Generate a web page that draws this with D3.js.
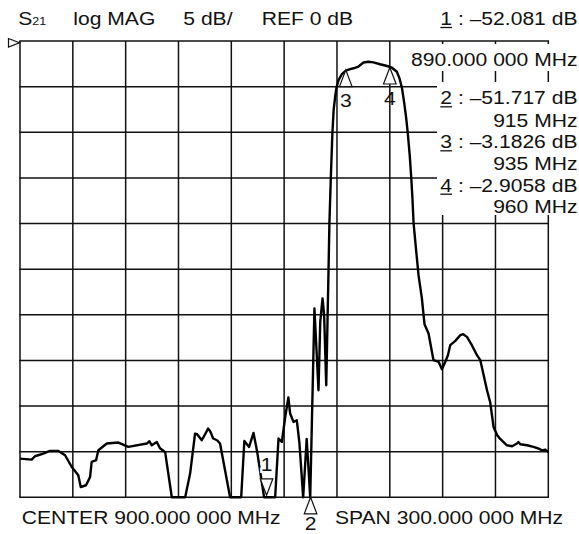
<!DOCTYPE html>
<html><head><meta charset="utf-8">
<script src="https://cdn.jsdelivr.net/npm/d3@7"></script>
<style>
html,body{margin:0;padding:0;background:#fff;}
svg{display:block;font-family:"Liberation Sans",Arial,Helvetica,sans-serif;}
</style></head>
<body><svg id="chart" width="579" height="534"></svg>
<script>
// ---- data ----
const freqMHz = [750,756.6,758.5,763.2,767.0,771.8,775.6,779.4,783.1,784.5,787.5,789.8,790.7,793.2,794.5,799.3,805.9,811.5,822.0,823.5,824.8,827.7,829.5,832.4,836.2,843.8,846.6,849.4,850.6,853.2,855.1,856.8,858.0,859.7,861.9,863.6,869.3,875.6,877.4,880.1,882.6,884.7,888.6,894.9,896.8,898.7,900.6,902.4,903.4,905.3,907.2,908.7,910.8,912.8,914.8,917.2,919.5,920.5,921.8,922.7,923.9,925.2,925.7,926.5,927.4,928.1,929.0,929.8,930.9,932.8,934.7,936.5,939.4,942.2,945.1,947.9,950.7,954.5,958.4,961.2,964.0,965.5,966.9,968.2,969.3,970.2,971.3,972.2,972.9,973.5,974.4,976.3,978.2,979.7,982.0,984.8,987.7,989.6,991.5,993.0,994.3,997.2,1000.0,1001.7,1003.8,1006.6,1009.5,1011.4,1015.2,1017.0,1018.9,1021.0,1022.7,1026.5,1029.5,1032.2,1033.0,1034.1,1037.9,1041.6,1044.5,1046.4,1048.3,1050];
const s21dB = [-45.76,-45.87,-45.50,-45.21,-44.92,-44.92,-45.39,-46.68,-47.59,-48.87,-48.68,-47.77,-46.13,-45.94,-44.85,-44.11,-44.00,-44.48,-44.11,-43.86,-44.30,-43.94,-44.63,-45.03,-52.0,-52.0,-47.40,-43.02,-43.09,-43.75,-43.09,-42.47,-42.76,-43.56,-43.75,-44.11,-52.0,-52.0,-43.83,-44.48,-42.95,-45.03,-52.08,-52.0,-43.56,-43.94,-41.20,-39.07,-40.82,-41.74,-41.56,-44.11,-51.9,-43.61,-51.72,-29.31,-38.27,-30.78,-28.21,-30.04,-37.72,-25.11,-19.96,-15.02,-10.09,-7.57,-6.03,-5.04,-4.28,-3.62,-3.29,-3.13,-2.99,-2.80,-2.36,-2.27,-2.34,-2.55,-2.74,-2.93,-3.37,-4.09,-5.15,-6.80,-8.44,-10.09,-12.50,-15.02,-17.43,-19.96,-21.82,-25.66,-28.18,-31.03,-32.05,-34.98,-35.16,-35.96,-35.16,-34.43,-33.33,-32.86,-32.24,-32.13,-32.42,-33.33,-34.43,-34.98,-38.27,-39.58,-42.29,-43.20,-43.61,-44.30,-44.41,-44.11,-43.94,-44.19,-44.30,-44.48,-44.66,-44.85,-44.77,-45.03];
const freqGrid = [750,780,810,840,870,900,930,960,990,1020,1050];
const dbGrid = [0,-5,-10,-15,-20,-25,-30,-35,-40,-45,-50];
const markerIds = ["1","2","3","4"];
const markerFreq = [890,915,935,960];
const markerDb = [-52.081,-51.717,-3.1826,-2.9058];
const markerDbText = ["–52.081 dB","–51.717 dB","–3.1826 dB","–2.9058 dB"];
const markerFreqText = ["890.000 000 MHz","915 MHz","935 MHz","960 MHz"];
const headerParam = "S";
const headerSub = "21";
const headerLabels = ["log MAG","5 dB/","REF 0 dB"];
const footerLabels = ["CENTER 900.000 000 MHz","SPAN 300.000 000 MHz"];

// ---- layout ----
const FS = 18.5, SX = 1.14, INK = "#111";
const svg = d3.select("#chart");
const x = d3.scaleLinear().domain([750,1050]).range([20,548.3]);
const y = d3.scaleLinear().domain([0,-50]).range([41,497.3]).clamp(true);

function label(x0, y0, str, anchor, size){
  const g = svg.append("g").attr("transform", `translate(${x0},${y0}) scale(${SX},1)`);
  const t = g.append("text").attr("text-anchor", anchor||"start")
    .attr("font-size", size||FS).attr("fill", INK).text(str);
  return {g, t};
}

// grid
const grid = svg.append("g").attr("stroke", "#111").attr("stroke-width", 1.5);
grid.selectAll("line.v").data(freqGrid).join("line").attr("class","v")
  .attr("x1", d=>x(d)).attr("x2", d=>x(d)).attr("y1", y(0)).attr("y2", y(-50));
grid.selectAll("line.h").data(dbGrid).join("line").attr("class","h")
  .attr("y1", d=>y(d)).attr("y2", d=>y(d)).attr("x1", x(750)-0.75).attr("x2", x(1050)+0.75);

// reference marker ▷
svg.append("path").attr("d", "M8.5,38.5 L8.5,47 L19.5,42.7 Z")
  .attr("fill","#fff").attr("stroke", INK).attr("stroke-width", 1.2);

// white readout boxes
svg.append("rect").attr("x",408).attr("y",44).attr("width",171).attr("height",27).attr("fill","#fff");
svg.append("rect").attr("x",437).attr("y",82).attr("width",142).attr("height",133).attr("fill","#fff");

// header
const hs = label(18.3, 25, headerParam, "start");
hs.t.append("tspan").attr("font-size", 11).text(headerSub);
const headerX = [73.3, 183.3, 261.7];
headerLabels.forEach((s,i)=>label(headerX[i], 25, s, "start"));

// readouts
const RX = 577.5;
const readY = [25, 104.3, 148.3, 191.7];
const freqY = [66, 126.7, 170, 213.3];
markerIds.forEach((id,i)=>{
  const r = label(RX, readY[i], `${id} : ${markerDbText[i]}`, "end");
  const e = r.t.node().getExtentOfChar(0);
  r.g.append("line").attr("x1", e.x).attr("x2", e.x+e.width)
    .attr("y1", 2.5).attr("y2", 2.5).attr("stroke", INK).attr("stroke-width", 1.3);
  label(RX, freqY[i], markerFreqText[i], "end");
});

// footer
label(21.7, 524, footerLabels[0], "start");
label(335, 524, footerLabels[1], "start");

// trace
const pts = freqMHz.map((f,i)=>[f, s21dB[i]]);
svg.append("path").datum(pts)
  .attr("d", d3.line().x(d=>x(d[0])).y(d=>y(d[1])))
  .attr("fill","none").attr("stroke","#000").attr("stroke-width",2.4)
  .attr("stroke-linejoin","round");

// markers
const TW = 6.3, TH = 16.5;
markerIds.forEach((id,i)=>{
  const mx = x(markerFreq[i]);
  const clipped = markerDb[i] < -50;
  if (i === 0) {
    const ay = y(markerDb[i]) - 2;
    svg.append("path").attr("d", `M${mx},${ay} L${mx-TW},${ay-TH} L${mx+TW},${ay-TH} Z`)
      .attr("fill","#fff").attr("stroke",INK).attr("stroke-width",1.2);
    const l = label(mx, ay-TH-7.5, id, "middle");
    l.t.attr("stroke","#fff").attr("stroke-width",4).attr("paint-order","stroke");
  } else {
    const ay = y(markerDb[i]);
    svg.append("path").attr("d", `M${mx},${ay} L${mx-TW},${ay+TH} L${mx+TW},${ay+TH} Z`)
      .attr("fill","#fff").attr("stroke",INK).attr("stroke-width",1.2);
    label(mx, ay + (clipped ? 33 : 37), id, "middle");
  }
});
</script>
</body></html>
